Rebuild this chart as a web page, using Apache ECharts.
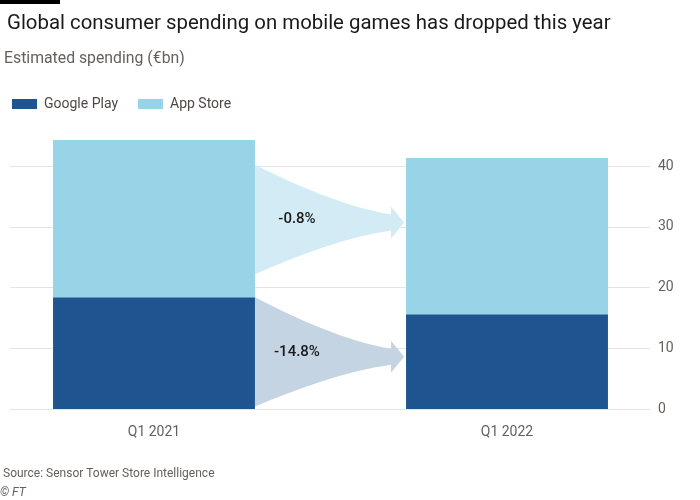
<!DOCTYPE html>
<html><head><meta charset="utf-8">
<script src="https://cdn.jsdelivr.net/npm/echarts@6/dist/echarts.min.js"></script>
<style>html,body{margin:0;padding:0;background:#fff}#c{width:700px;height:500px}</style>
</head><body><div id="c"></div>
<script>
const categories = ['Q1 2021', 'Q1 2022'];
const googlePlay = [18.4, 15.6];
const appStore = [25.9, 25.7];
const yTicks = [0, 10, 20, 30, 40];
const changeLabels = ['-0.8%', '-14.8%'];
// flow bands: [from category index, low value at left, high value at left, arrow tip value]
const flowAppStore = [0, 22.2, 40.2, 30.7];
const flowGooglePlay = [0, 0.4, 18.4, 8.6];
const flowColors = ['#d3ebf4', '#c5d4e2'];

const FONT = 'Roboto, "Noto Sans", sans-serif';
const BAR_RATIO = 0.572;

function renderFlow(params, api) {
  const cat = api.value(0), lo = api.value(1), hi = api.value(2), tip = api.value(3);
  const band = api.size([1, 0])[0];
  const half = band * BAR_RATIO / 2;
  const pL = api.coord([cat, lo]);
  const pH = api.coord([cat, hi]);
  const pT = api.coord([cat + 1, tip]);
  const x0 = pL[0] + half;
  const x1 = pT[0] - half - 2;
  const shaft = 8, head = 16, headLen = 13;
  const xb = x1 - headLen;
  const yt = pT[1];
  const dx = xb - x0;
  const topEnd = yt - shaft, botEnd = yt + shaft;
  const yTop = pH[1], yBot = pL[1];
  const d =
    'M' + x0 + ',' + yTop +
    ' C' + (x0 + dx * 0.33) + ',' + (yTop + (topEnd - yTop) * 0.45) + ' ' +
    (x0 + dx * 0.67) + ',' + (yTop + (topEnd - yTop) * 0.85) + ' ' + xb + ',' + topEnd +
    ' L' + xb + ',' + (yt - head) +
    ' L' + x1 + ',' + yt +
    ' L' + xb + ',' + (yt + head) +
    ' L' + xb + ',' + botEnd +
    ' C' + (x0 + dx * 0.67) + ',' + (yBot + (botEnd - yBot) * 0.85) + ' ' +
    (x0 + dx * 0.33) + ',' + (yBot + (botEnd - yBot) * 0.45) + ' ' + x0 + ',' + yBot +
    ' Z';
  return {
    type: 'group',
    children: [
      { type: 'path', shape: { pathData: d }, style: { fill: flowColors[params.dataIndex] } },
      { type: 'text', style: { text: changeLabels[params.dataIndex], x: x0 + 42, y: (yTop + yBot) / 2,
        align: 'center', verticalAlign: 'middle', fill: '#1a1a1a', font: '500 15px ' + FONT } }
    ]
  };
}

const chart = echarts.init(document.getElementById('c'), null, { renderer: 'canvas' });
chart.setOption({
  animation: false,
  backgroundColor: '#fff',
  textStyle: { fontFamily: FONT },
  title: [
    { text: 'Global consumer spending on mobile games has dropped this year', left: 7, top: 14, padding: 0,
      textStyle: { fontSize: 20.4, fontWeight: 'normal', color: '#1a1a1a', fontFamily: FONT } },
    { text: 'Estimated spending (€bn)', left: 4, top: 51, padding: 0,
      textStyle: { fontSize: 15.8, fontWeight: 'normal', color: '#66605c', fontFamily: FONT } },
    { text: 'Source: Sensor Tower Store Intelligence', left: 3, top: 468, padding: 0,
      textStyle: { fontSize: 12, fontWeight: 'normal', color: '#66605c', fontFamily: FONT } },
    { text: '© FT', left: 0, top: 487, padding: 0,
      textStyle: { fontSize: 12, fontWeight: 'normal', fontStyle: 'italic', color: '#66605c', fontFamily: FONT } }
  ],
  graphic: [{ type: 'rect', shape: { x: 0, y: 0, width: 60, height: 4 }, style: { fill: '#000' } }],
  legend: {
    left: 12, top: 97, padding: 0, itemWidth: 25, itemHeight: 10, itemGap: 20, icon: 'rect',
    textStyle: { fontSize: 14, color: '#4d4845', fontFamily: FONT, padding: [0, 0, 0, 2] },
    data: ['Google Play', 'App Store']
  },
  grid: [
    { left: -22.5, right: 16.5, top: 166, bottom: 91, containLabel: false, outerBoundsMode: 'none' },
    { left: 10, right: 50, top: 166, bottom: 91, containLabel: false, outerBoundsMode: 'none' }
  ],
  xAxis: [
    { type: 'category', gridIndex: 0, data: categories,
      axisLine: { show: false }, axisTick: { show: false },
      axisLabel: { fontSize: 14, color: '#66605c', margin: 16, fontFamily: FONT } },
    { type: 'value', gridIndex: 1, show: false }
  ],
  yAxis: [
    { type: 'value', gridIndex: 0, min: 0, max: 40, interval: 10, show: false },
    { type: 'value', gridIndex: 1, min: 0, max: 40, interval: 10, position: 'right',
      axisLine: { show: false }, axisTick: { show: false },
      splitLine: { lineStyle: { color: '#ece3dc', width: 1 } },
      axisLabel: { fontSize: 14, color: '#66605c', margin: 8, fontFamily: FONT,
        customValues: yTicks } }
  ],
  series: [
    { name: 'Google Play', type: 'bar', stack: 'total', xAxisIndex: 0, yAxisIndex: 0,
      barWidth: (BAR_RATIO * 100) + '%', clip: false, itemStyle: { color: '#1e5590' },
      data: googlePlay, z: 3 },
    { name: 'App Store', type: 'bar', stack: 'total', xAxisIndex: 0, yAxisIndex: 0,
      barWidth: (BAR_RATIO * 100) + '%', clip: false, itemStyle: { color: '#97d4e8' },
      data: appStore, z: 3 },
    { name: 'flows', type: 'custom', xAxisIndex: 0, yAxisIndex: 0, clip: false,
      renderItem: renderFlow, data: [flowAppStore, flowGooglePlay], z: 2, silent: true }
  ]
});
</script></body></html>
